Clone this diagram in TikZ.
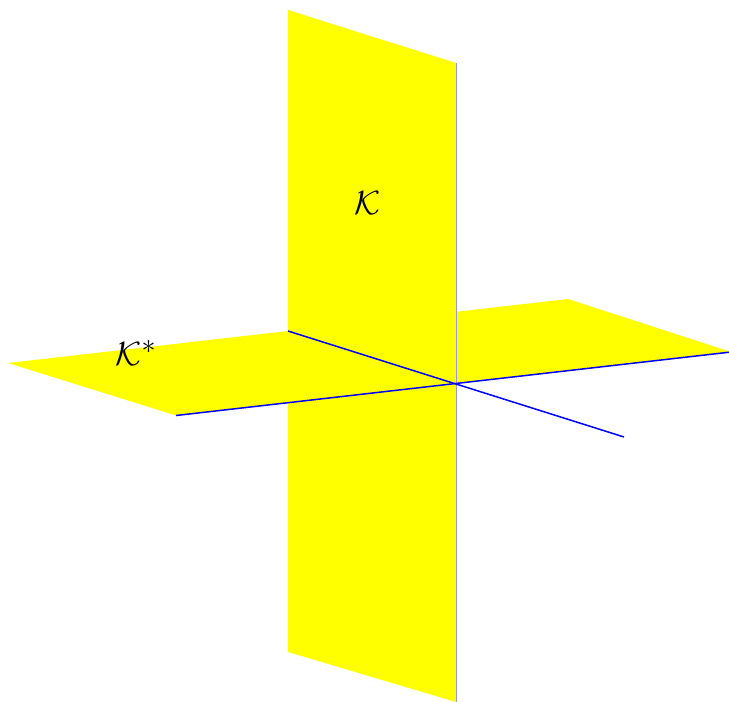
\documentclass[tikz,border=0pt]{standalone}
\definecolor{sheetyellow}{RGB}{255,255,0}
\definecolor{axisblue}{RGB}{0,0,255}
\definecolor{edgeblue}{RGB}{150,150,225}
\begin{document}
\begin{tikzpicture}[
        x=1pt,
        y=-1pt,
        sheet/.style={fill=sheetyellow, draw=none},
        axis line/.style={draw=axisblue, line width=1.5pt},
        edge line/.style={draw=edgeblue, line width=1pt},
        plane label/.style={font=\fontsize{24.88}{30}\selectfont, scale=1.35, inner sep=0pt},
    ]

    \useasboundingbox (0,0) rectangle (729,702);

    % Goc cua hai mat phang
    \coordinate (top-back) at (288,10);
    \coordinate (top-front) at (456,63);
    \coordinate (bottom-front) at (456,702);
    \coordinate (bottom-back) at (288,652);
    \coordinate (flat-left) at (8,363);
    \coordinate (flat-back) at (568,299);
    \coordinate (flat-right) at (731,352);
    \coordinate (flat-front) at (176,415.5);

    % Dau truc
    \coordinate (axis-back) at (288,331);
    \coordinate (axis-front) at (624,437);

    % Hai mat phang
    \fill[sheet] (top-back) -- (top-front) -- (bottom-front) -- (bottom-back) -- cycle;
    \fill[sheet] (flat-left) -- (flat-back) -- (flat-right) -- (flat-front) -- cycle;

    % Cac truc
    \draw[edge line] (top-front) -- (bottom-front);
    \draw[axis line] (flat-front) -- (flat-right);
    \draw[axis line] (axis-back) -- (axis-front);

    % Nhan
    \node[plane label] (label-k) at (368,203) {$\mathcal{K}$};
    \node[plane label] (label-kstar) at (136,353) {$\mathcal{K}^*$};

\end{tikzpicture}
\end{document}
